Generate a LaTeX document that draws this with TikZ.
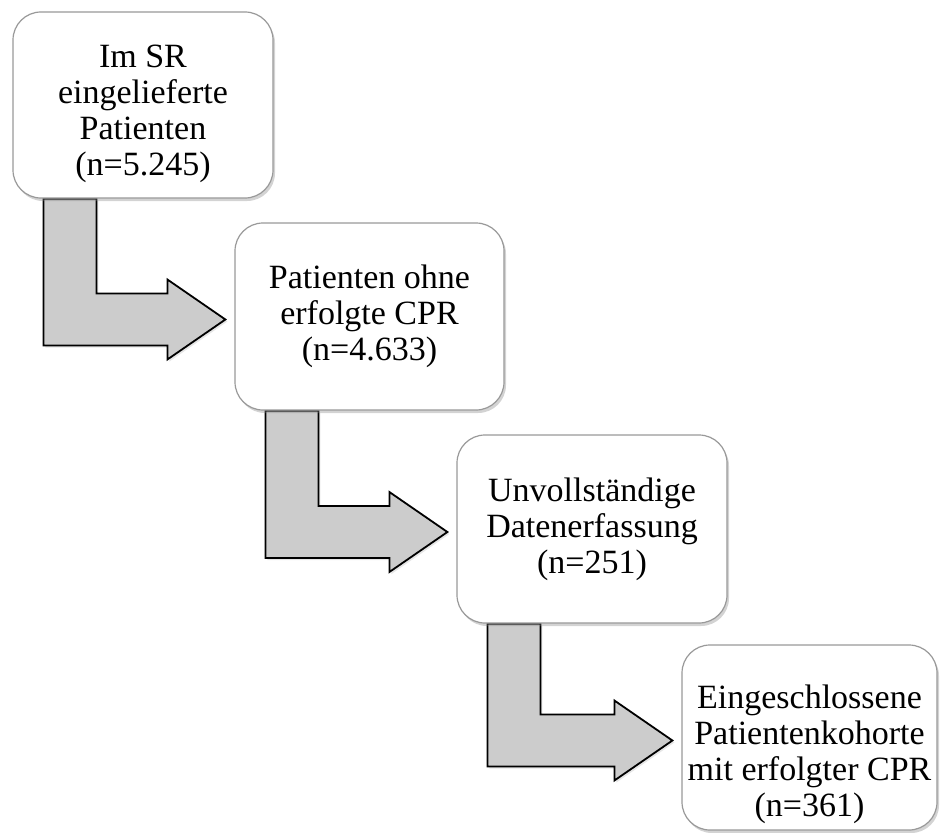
\documentclass[tikz,border=0pt]{standalone}
\usepackage{fontspec}
\setmainfont{Liberation Serif}
\usetikzlibrary{calc}
\usetikzlibrary{shadows,backgrounds}
\tikzset{
	stage/.style={draw=gray!80, line width=1.2pt, fill=white, rounded corners=28pt,
		align=center, inner sep=0pt, font=\fontsize{34}{36}\selectfont,
		drop shadow={opacity=0.35, shadow xshift=2pt, shadow yshift=-3pt}},
	bent/.style={draw=black, line width=1.8pt, fill=gray!40, line join=miter,
		drop shadow={opacity=0.2, shadow xshift=2pt, shadow yshift=-2pt}}
}
\newcommand{\bentarrow}[2]{%
	\coordinate (tip) at ($(#2.west)+(-9,3)$);
	\draw[bent] ($(#1.south west)+(31,0)$) -- ($(#1.south west)+(84,0)$)
		|- ($(tip)+(-58,-26)$) -- ($(tip)+(-58,-40)$) -- (tip)
		-- ($(tip)+(-58,40)$) -- ($(tip)+(-58,26)$) -| ($(#1.south west)+(31,0)$) -- cycle;
}

\begin{document}
\begin{tikzpicture}[x=1pt,y=-1pt]
	 	\useasboundingbox (0,0) rectangle (941,832);
	 	\node[stage, minimum width=260pt, minimum height=186pt] (b1) at (143,105) {\rule{0pt}{40pt}Im SR\\eingelieferte\\Patienten\\(n=5.245)};
	 	\node[stage, minimum width=269pt, minimum height=187pt] (b2) at (369.5,316.5) {Patienten ohne\\erfolgte CPR\\(n=4.633)};
	 	\node[stage, minimum width=270pt, minimum height=188pt] (b3) at (592,529) {Unvollständige\\Datenerfassung\\(n=251)};
	 	\node[stage, minimum width=255pt, minimum height=185pt] (b4) at (809.5,737.5) {\rule{0pt}{58pt}Eingeschlossene\\Patientenkohorte\\mit erfolgter CPR\\(n=361)};
	 	\begin{pgfonlayer}{background}
	 	\bentarrow{b1}{b2}
	 	\bentarrow{b2}{b3}
	 	\bentarrow{b3}{b4}
	 	\end{pgfonlayer}
\end{tikzpicture}
\end{document}
